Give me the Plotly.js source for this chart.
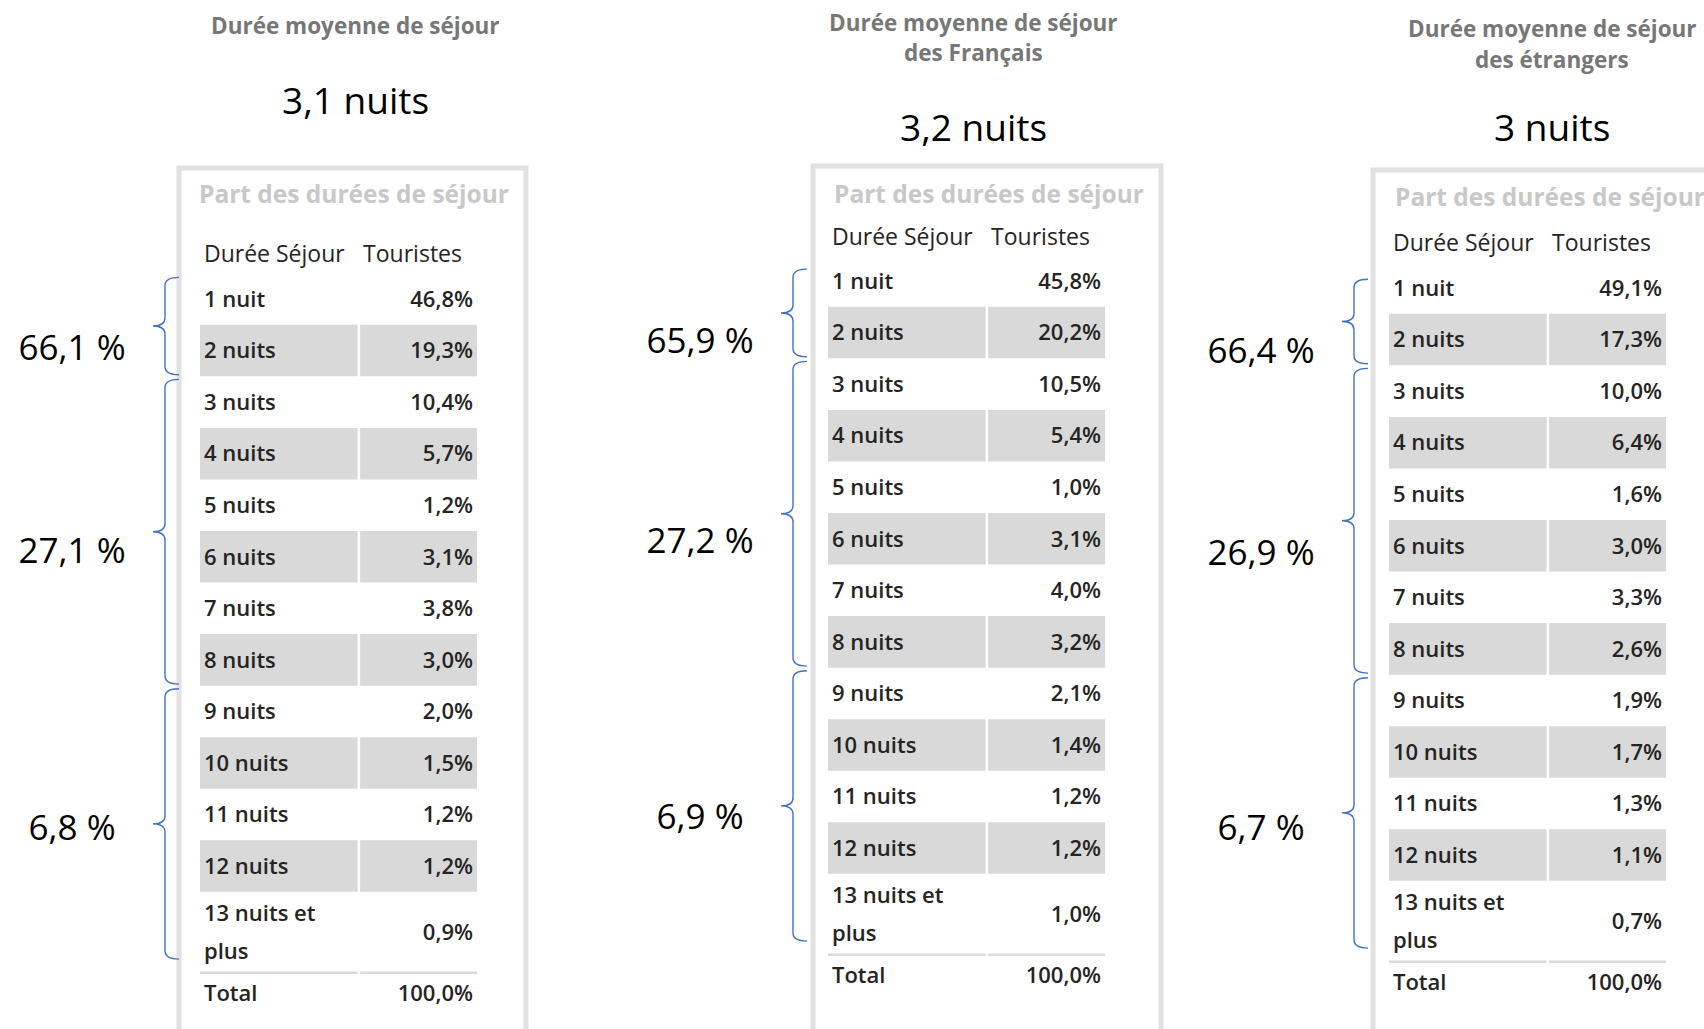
<!DOCTYPE html>
<html><head><meta charset="utf-8">
<script src="https://cdn.plot.ly/plotly-3.0.1.min.js"></script>
<style>html,body{margin:0;padding:0;background:#fff;}#chart{width:1704px;height:1029px;}</style>
</head><body><div id="chart"></div>
<script>
// ---------- DATA ----------
const categories = ["1 nuit","2 nuits","3 nuits","4 nuits","5 nuits","6 nuits","7 nuits","8 nuits","9 nuits","10 nuits","11 nuits","12 nuits","13 nuits et plus"];
const partEnsemble  = [46.8,19.3,10.4,5.7,1.2,3.1,3.8,3.0,2.0,1.5,1.2,1.2,0.9];
const partFrancais  = [45.8,20.2,10.5,5.4,1.0,3.1,4.0,3.2,2.1,1.4,1.2,1.2,1.0];
const partEtrangers = [49.1,17.3,10.0,6.4,1.6,3.0,3.3,2.6,1.9,1.7,1.3,1.1,0.7];
const totalPart = [100.0, 100.0, 100.0];
const groupEnsemble  = [66.1, 27.1, 6.8];
const groupFrancais  = [65.9, 27.2, 6.9];
const groupEtrangers = [66.4, 26.9, 6.7];
const groupFirstRow = [1, 3, 9];
const groupLastRow  = [2, 8, 13];
const avgNights = [3.1, 3.2, 3];
const panelTitles = [["Durée moyenne de séjour"], ["Durée moyenne de séjour","des Français"], ["Durée moyenne de séjour","des étrangers"]];
const tableTitle = "Part des durées de séjour";
const tableHeaders = ["Durée Séjour", "Touristes"];
const totalLabel = "Total";

// ---------- STYLE / LAYOUT ----------
const W = 1704, H = 1029;
const PITCH = 51.55, BAND_W = 277, TALL = 1.57;
const FONT = "Open Sans, Noto Sans, sans-serif";
const panels = [
  {left:200,  row1:299, titleX:355,  titleY:[26],    bigY:100, partY:193, partDx:-3, headY:254, boxTop:168, boxL:-21, boxR:326, braceTop:0.08, labelDy:[0.485,0.435,0.14]},
  {left:828,  row1:281, titleX:973,  titleY:[22,53], bigY:126, partY:193, partDx:4,  headY:237, boxTop:166, boxL:-15, boxR:333, braceTop:0.27, labelDy:[0.60,0.585,0.27]},
  {left:1389, row1:288, titleX:1552, titleY:[28,60], bigY:127, partY:196, partDx:4,  headY:243, boxTop:170, boxL:-16, boxR:335, braceTop:0.33, labelDy:[0.63,0.685,0.35]}
];
const datasets = [
  {parts:partEnsemble,  groups:groupEnsemble,  avg:avgNights[0], title:panelTitles[0], total:totalPart[0]},
  {parts:partFrancais,  groups:groupFrancais,  avg:avgNights[1], title:panelTitles[1], total:totalPart[1]},
  {parts:partEtrangers, groups:groupEtrangers, avg:avgNights[2], title:panelTitles[2], total:totalPart[2]}
];
const COL1 = [0, 0.569], COL2 = [0.578, 1];
const PAD = 4 / BAND_W;
const TDY = 0.045;   // small downward nudge for table text
const TXT = "#252423", BAND = "#d9d9d9", BRACE = "#4472c4";

function rowY(k){ return k <= 12 ? k : 12.5 + TALL/2; }
function rowH(k){ return k <= 12 ? 1 : TALL; }
const SEP = 12.5 + TALL, TOTAL_Y = SEP + 0.39;
function fmtPct(v){ return v.toFixed(1).replace('.', ',') + '%'; }
function fmtNum(v){ return String(v).replace('.', ','); }
function wrap(s, max){
  const words = s.split(' '); const lines = []; let cur = '';
  words.forEach(w => { const t = cur ? cur + ' ' + w : w; if (t.length > max && cur){ lines.push(cur); cur = w; } else cur = t; });
  if (cur) lines.push(cur); return lines;
}

const layout = {width:W, height:H, margin:{l:0,r:0,t:0,b:0}, paper_bgcolor:"#fff", plot_bgcolor:"rgba(0,0,0,0)", showlegend:false, shapes:[], annotations:[]};
const traces = [];

panels.forEach((P, pi) => {
  const D = datasets[pi];
  const ax = pi === 0 ? '' : String(pi+1);
  const xa = 'x'+ax, ya = 'y'+ax;
  const uy = px => 1 + (px - P.row1)/PITCH;
  const ux = dx => dx / BAND_W;
  layout['xaxis'+ax] = {domain:[0,1], range:[-P.left/BAND_W, (W-P.left)/BAND_W], visible:false, fixedrange:true, anchor:ya};
  layout['yaxis'+ax] = {domain:[0,1], range:[1+(H-P.row1)/PITCH, 1-P.row1/PITCH], visible:false, fixedrange:true, anchor:xa};

  // outer box
  layout.shapes.push({type:'rect', xref:xa, yref:ya, x0:ux(P.boxL), x1:ux(P.boxR), y0:uy(P.boxTop), y1:uy(H+40), line:{color:'#e1e1e1', width:5}, fillcolor:'rgba(0,0,0,0)', layer:'below'});

  // gray bands on alternate rows
  categories.forEach((c, i) => {
    const k = i + 1;
    if (k % 2 === 0) {
      [COL1, COL2].forEach(col => layout.shapes.push({type:'rect', xref:xa, yref:ya, x0:col[0], x1:col[1], y0:rowY(k)-rowH(k)/2, y1:rowY(k)+rowH(k)/2, fillcolor:BAND, line:{width:0}, layer:'below'}));
    }
  });
  // separator above total
  [COL1, COL2].forEach(col => layout.shapes.push({type:'line', xref:xa, yref:ya, x0:col[0], x1:col[1], y0:SEP, y1:SEP, line:{color:'#dadada', width:2.5}, layer:'below'}));

  // row labels
  const lx = [], lyv = [], lt = [];
  categories.forEach((c, i) => {
    const k = i + 1; const lines = wrap(c, 11); const gap = 38/PITCH;
    lines.forEach((ln, j) => { lx.push(PAD); lyv.push(rowY(k) + TDY + (j - (lines.length-1)/2)*gap); lt.push(ln); });
  });
  lx.push(PAD); lyv.push(TOTAL_Y + TDY); lt.push(totalLabel);
  traces.push({type:'scatter', mode:'text', xaxis:xa, yaxis:ya, x:lx, y:lyv, text:lt, textposition:'middle right', cliponaxis:false, hoverinfo:'skip',
    textfont:{family:FONT, size:22, color:TXT, weight:600}});
  // values
  const vy = categories.map((c, i) => rowY(i+1) + TDY).concat([TOTAL_Y + TDY]);
  const vt = D.parts.map(fmtPct).concat([fmtPct(D.total)]);
  traces.push({type:'scatter', mode:'text', xaxis:xa, yaxis:ya, x:vy.map(() => 1 - PAD), y:vy, text:vt, textposition:'middle left', cliponaxis:false, hoverinfo:'skip',
    textfont:{family:FONT, size:22, color:TXT, weight:600}});
  // headers
  traces.push({type:'scatter', mode:'text', xaxis:xa, yaxis:ya, x:[PAD, COL2[0] + 3/BAND_W], y:[uy(P.headY)+TDY, uy(P.headY)+TDY], text:tableHeaders, textposition:'middle right', cliponaxis:false, hoverinfo:'skip',
    textfont:{family:FONT, size:23, color:TXT, weight:500}});
  // table title
  layout.annotations.push({xref:xa, yref:ya, x:ux(P.partDx), y:uy(P.partY), xanchor:'left', yanchor:'middle', showarrow:false, text:tableTitle,
    font:{family:FONT, size:24.5, color:'#c8c8c8', weight:700}});

  // braces and group labels
  const xr = -21/BAND_W, xs = -35/BAND_W, xl = -47/BAND_W, r = 0.16;
  const gx = [], gy = [], gt = [];
  D.groups.forEach((g, gi) => {
    const f = groupFirstRow[gi], l = groupLastRow[gi];
    const top = rowY(f) - rowH(f)/2 + (gi === 0 ? P.braceTop : 0.06);
    const bot = Math.min(rowY(l) + rowH(l)/2, rowY(l) + 0.55) - 0.03;
    const mid = (top + bot)/2;
    const path = `M ${xr},${top} Q ${xs},${top} ${xs},${top+r} L ${xs},${mid-r} Q ${xs},${mid} ${xl},${mid} Q ${xs},${mid} ${xs},${mid+r} L ${xs},${bot-r} Q ${xs},${bot} ${xr},${bot}`;
    layout.shapes.push({type:'path', xref:xa, yref:ya, path:path, line:{color:BRACE, width:1.4}});
    gx.push(-0.462); gy.push(mid + P.labelDy[gi]); gt.push(fmtNum(g) + ' %');
  });
  traces.push({type:'scatter', mode:'text', xaxis:xa, yaxis:ya, x:gx, y:gy, text:gt, textposition:'middle center', cliponaxis:false, hoverinfo:'skip',
    textfont:{family:FONT, size:35, color:'#000'}});

  // panel title & average
  D.title.forEach((t, j) => layout.annotations.push({xref:'paper', yref:'paper', x:P.titleX/W, y:1 - P.titleY[j]/H, xanchor:'center', yanchor:'middle', showarrow:false, text:t,
    font:{family:FONT, size:22.5, color:'#777777', weight:700}}));
  layout.annotations.push({xref:'paper', yref:'paper', x:P.titleX/W, y:1 - P.bigY/H, xanchor:'center', yanchor:'middle', showarrow:false, text:fmtNum(D.avg) + ' nuits',
    font:{family:FONT, size:37, color:'#000'}});
});

Plotly.newPlot('chart', traces, layout, {staticPlot:true, displayModeBar:false});
</script></body></html>
